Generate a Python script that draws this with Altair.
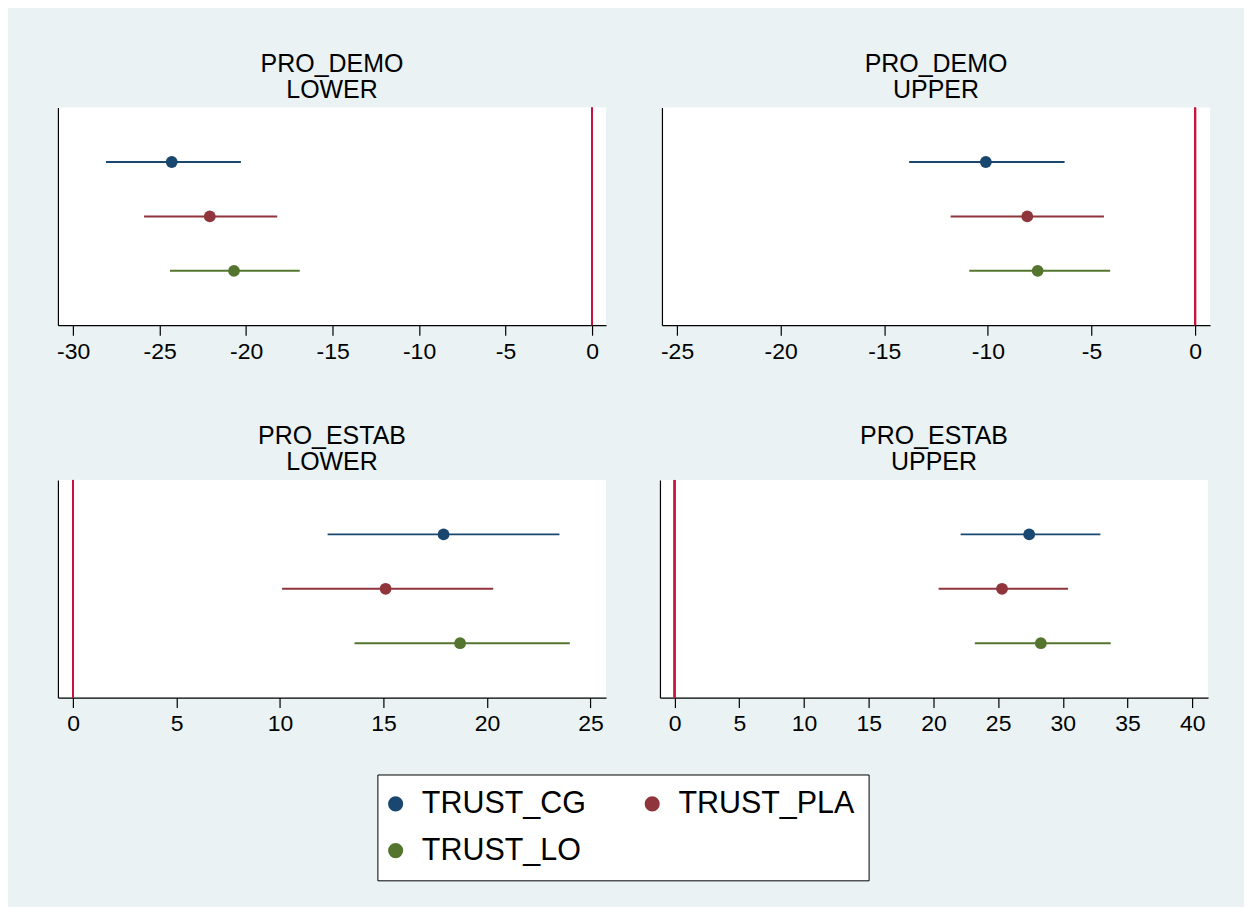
import altair as alt
import pandas as pd

series = ["TRUST_CG", "TRUST_PLA", "TRUST_LO"]
colors = ["#1A476F", "#90353B", "#55752F"]

# PRO_DEMO / LOWER
demo_lower_est = [-24.3, -22.1, -20.7]
demo_lower_lo = [-28.1, -25.9, -24.4]
demo_lower_hi = [-20.3, -18.2, -16.9]
# PRO_DEMO / UPPER
demo_upper_est = [-10.1, -8.1, -7.6]
demo_upper_lo = [-13.8, -11.8, -10.9]
demo_upper_hi = [-6.3, -4.4, -4.1]
# PRO_ESTAB / LOWER
estab_lower_est = [17.9, 15.1, 18.7]
estab_lower_lo = [12.3, 10.1, 13.6]
estab_lower_hi = [23.5, 20.3, 24.0]
# PRO_ESTAB / UPPER
estab_upper_est = [27.4, 25.3, 28.3]
estab_upper_lo = [22.1, 20.4, 23.2]
estab_upper_hi = [32.9, 30.4, 33.7]

titles = [["PRO_DEMO", "LOWER"], ["PRO_DEMO", "UPPER"],
          ["PRO_ESTAB", "LOWER"], ["PRO_ESTAB", "UPPER"]]
domains = [[-30.88, 0.81], [-25.73, 0.72], [-0.73, 25.75], [-1.13, 41.22]]
ticks = [[-30, -25, -20, -15, -10, -5, 0],
         [-25, -20, -15, -10, -5, 0],
         [0, 5, 10, 15, 20, 25],
         [0, 5, 10, 15, 20, 25, 30, 35, 40]]
data = [
    (demo_lower_est, demo_lower_lo, demo_lower_hi),
    (demo_upper_est, demo_upper_lo, demo_upper_hi),
    (estab_lower_est, estab_lower_lo, estab_lower_hi),
    (estab_upper_est, estab_upper_lo, estab_upper_hi),
]

FONT = "Liberation Sans"
W, H = 549, 218

color_scale = alt.Scale(domain=series, range=colors)
y_enc = alt.Y("series:N", sort=series,
              scale=alt.Scale(type="point", padding=1),
              axis=alt.Axis(labels=False, ticks=False, grid=False, title=None,
                            domainColor="black", domainWidth=1.2))


def panel(i):
    est, lo, hi = data[i]
    df = pd.DataFrame({"series": series, "est": est, "lo": lo, "hi": hi})
    x_scale = alt.Scale(domain=domains[i], nice=False, zero=False)
    x_axis = alt.Axis(values=ticks[i], grid=False, title=None, domainColor="black",
                      domainWidth=1.2, tickColor="black", tickSize=10, tickWidth=1.2,
                      labelFontSize=23, labelColor="black", labelFont=FONT,
                      labelPadding=5, labelFlush=False,
                      labelExpr="'' + datum.value")
    base = alt.Chart(df)
    zero = base.mark_rule(color="#C8143C", strokeWidth=2).encode(
        x=alt.datum(0, scale=x_scale, axis=x_axis))
    ci = base.mark_rule(strokeWidth=2).encode(
        x=alt.X("lo:Q", scale=x_scale, axis=x_axis),
        x2="hi:Q",
        y=y_enc,
        color=alt.Color("series:N", scale=color_scale, sort=series),
    )
    pts = base.mark_point(filled=True, opacity=1, size=140, shape="circle").encode(
        x=alt.X("est:Q", scale=x_scale, axis=x_axis),
        y=y_enc,
        color=alt.Color("series:N", scale=color_scale, sort=series,
                        legend=alt.Legend(title=None, orient="none",
                                          legendX=320, legendY=668,
                                          columns=2, direction="horizontal",
                                          symbolType="circle", symbolSize=230,
                                          symbolStrokeWidth=0, symbolOffset=-11,
                                          labelFontSize=30.5, labelFont=FONT,
                                          labelColor="black", labelOffset=11,
                                          labelLimit=400,
                                          labelExpr="datum.label == 'TRUST_PLA' ? datum.label + '\u00a0\u00a0' : datum.label",
                                          columnPadding=58, rowPadding=16,
                                          padding=14, fillColor="white",
                                          strokeColor="black")),
    )
    return alt.layer(zero, ci, pts).properties(
        width=W, height=H,
        title=alt.TitleParams(titles[i], fontSize=25, font=FONT, fontWeight="normal",
                              color="black", anchor="middle", lineHeight=26, offset=4),
    )


top = alt.hconcat(panel(0), panel(1), spacing=54)
bottom = alt.hconcat(panel(2), panel(3), spacing=54)
chart = alt.vconcat(top, bottom, spacing=61).properties(
    background="#EAF2F3",
    padding={"left": 48, "top": 43, "right": 34, "bottom": 25},
).configure_view(fill="white", stroke=None).configure_legend(
    symbolOpacity=1
)

chart.save("out.html", embed_options={"renderer": "svg", "actions": False})
